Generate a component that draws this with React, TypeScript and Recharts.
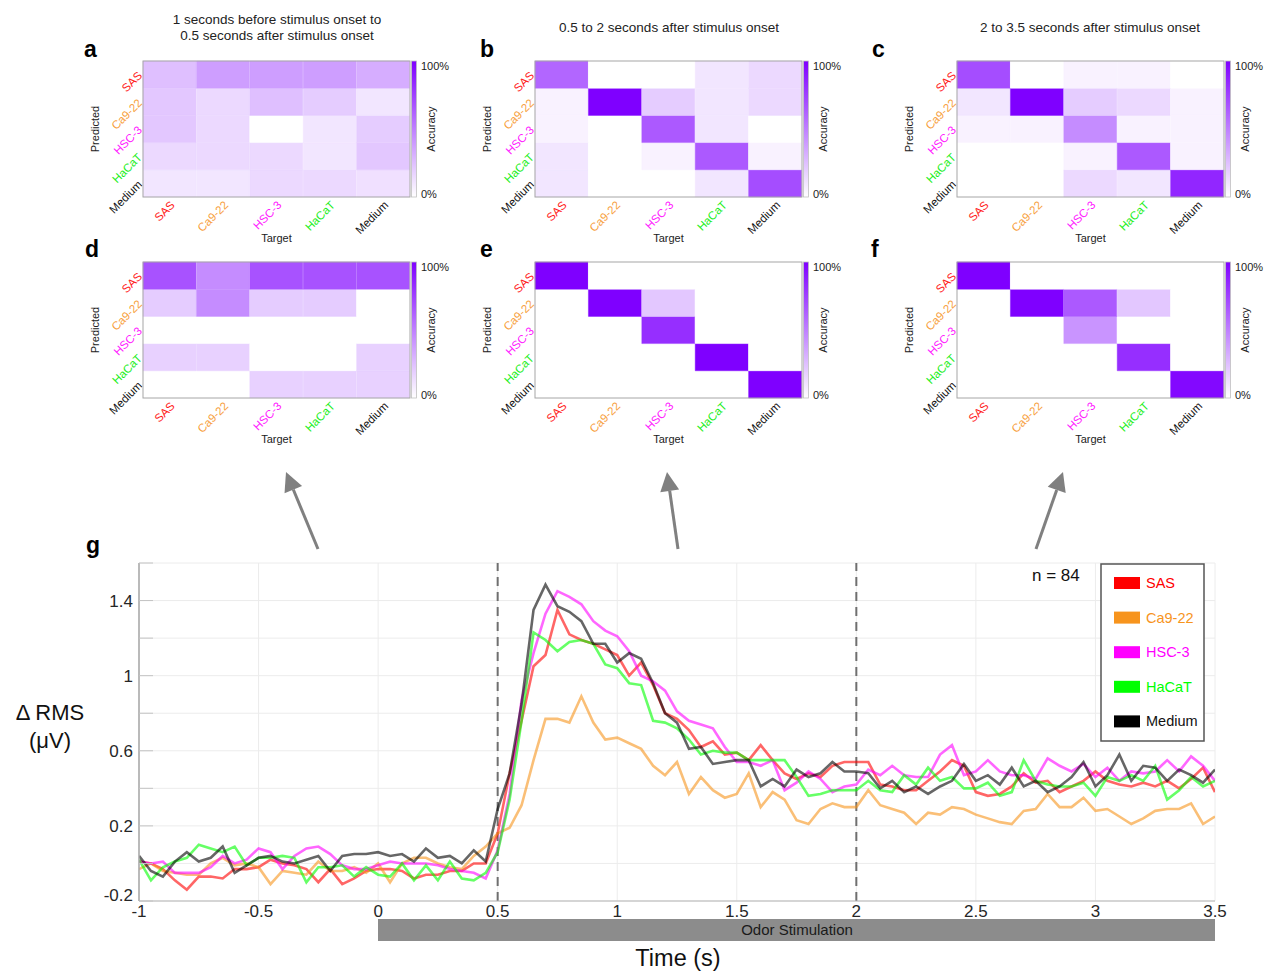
import React from 'react';
import { BarChart, Bar, Cell, XAxis, YAxis, LineChart, Line, CartesianGrid, ReferenceLine } from 'recharts';

const FONT = 'Liberation Sans, Arial, Helvetica, sans-serif';

// ---------- categories ----------
const CLASSES = ['SAS', 'Ca9-22', 'HSC-3', 'HaCaT', 'Medium'];
const LABEL_COLORS = ['#ff1a1a', '#f7a040', '#ff22ff', '#22ee22', '#111111'];
const SERIES_COLORS = ['#ff0000', '#f7941d', '#ff00ff', '#00ff00', '#000000'];

// ---------- confusion matrices (rows = Predicted, cols = Target, %) ----------
const PANEL_A = [
  [25, 38, 38, 38, 32],
  [22, 15, 25, 20, 10],
  [22, 15, 0, 10, 20],
  [15, 15, 15, 10, 22],
  [10, 10, 15, 15, 12],
];
const PANEL_B = [
  [60, 0, 0, 10, 15],
  [5, 100, 20, 10, 15],
  [5, 0, 65, 10, 0],
  [10, 0, 5, 65, 5],
  [10, 0, 0, 10, 70],
];
const PANEL_C = [
  [70, 0, 5, 5, 0],
  [10, 100, 20, 15, 5],
  [5, 5, 45, 5, 5],
  [0, 0, 5, 65, 5],
  [0, 0, 15, 10, 85],
];
const PANEL_D = [
  [68, 45, 68, 68, 68],
  [20, 45, 20, 20, 0],
  [0, 0, 0, 0, 0],
  [18, 18, 0, 0, 18],
  [0, 0, 18, 18, 18],
];
const PANEL_E = [
  [100, 0, 0, 0, 0],
  [0, 100, 22, 0, 0],
  [0, 0, 82, 0, 0],
  [0, 0, 0, 100, 0],
  [0, 0, 0, 0, 100],
];
const PANEL_F = [
  [100, 0, 0, 0, 0],
  [0, 100, 65, 22, 0],
  [0, 0, 42, 0, 0],
  [0, 0, 0, 82, 0],
  [0, 0, 0, 0, 97],
];

// ---------- time course (ΔRMS, µV), sampled every 0.05 s from -1 s ----------
const TIME_START = -1;
const TIME_STEP = 0.05;
const SAS = [
  0.01, 0, -0.03, -0.09, -0.14, -0.07, -0.07, -0.08, -0.03, -0.03, -0.02, 0.02, 0, -0.01, -0.03, -0.10, -0.03, -0.11, -0.08, -0.04, -0.03, -0.03, -0.04, -0.08, -0.06, -0.06, -0.04, -0.04, 0, 0,
  0.16, 0.48, 0.76, 1.05, 1.11, 1.35, 1.22, 1.19, 1.17, 1.14, 1.11, 1.00, 1.07, 0.95, 0.80, 0.77, 0.71, 0.62, 0.65, 0.58, 0.59, 0.55, 0.63, 0.55, 0.48, 0.45, 0.48, 0.46, 0.52, 0.54,
  0.54, 0.54, 0.42, 0.41, 0.39, 0.39, 0.44, 0.49, 0.55, 0.52, 0.38, 0.36, 0.37, 0.41, 0.48, 0.43, 0.44, 0.38, 0.41, 0.44, 0.49, 0.44, 0.42, 0.41, 0.43, 0.41, 0.44, 0.40, 0.45, 0.51, 0.38,
];
const CA9_22 = [
  -0.03, 0, -0.04, -0.05, -0.06, -0.06, 0, 0.03, -0.01, 0, -0.02, -0.11, -0.04, -0.05, -0.06, 0.01, -0.04, -0.04, -0.02, -0.05, 0, -0.10, 0, 0.03, 0.03, 0, -0.02, -0.03, 0.04, 0.09,
  0.16, 0.19, 0.31, 0.55, 0.77, 0.77, 0.75, 0.89, 0.75, 0.66, 0.67, 0.64, 0.61, 0.52, 0.47, 0.54, 0.37, 0.46, 0.39, 0.35, 0.37, 0.48, 0.30, 0.38, 0.34, 0.23, 0.21, 0.29, 0.32, 0.30,
  0.30, 0.39, 0.31, 0.29, 0.27, 0.21, 0.27, 0.26, 0.30, 0.29, 0.26, 0.24, 0.22, 0.21, 0.28, 0.29, 0.37, 0.30, 0.30, 0.35, 0.28, 0.29, 0.25, 0.21, 0.24, 0.28, 0.29, 0.29, 0.32, 0.21, 0.25,
];
const HSC_3 = [
  0.01, 0, 0.01, -0.05, -0.05, -0.05, -0.02, 0.04, 0, 0.02, 0.08, 0.06, -0.03, 0.04, 0.08, 0.09, 0.05, -0.01, -0.03, -0.03, -0.01, 0.01, 0, 0, 0, -0.01, -0.03, -0.04, -0.05, -0.08,
  0.07, 0.37, 0.87, 1.12, 1.33, 1.45, 1.42, 1.38, 1.29, 1.24, 1.21, 1.13, 1.00, 0.97, 0.92, 0.81, 0.76, 0.74, 0.72, 0.62, 0.54, 0.54, 0.52, 0.55, 0.39, 0.43, 0.49, 0.45, 0.38, 0.41,
  0.42, 0.50, 0.47, 0.52, 0.47, 0.46, 0.46, 0.58, 0.63, 0.47, 0.49, 0.55, 0.49, 0.47, 0.47, 0.45, 0.56, 0.52, 0.49, 0.53, 0.46, 0.51, 0.44, 0.49, 0.48, 0.49, 0.55, 0.49, 0.57, 0.52, 0.44,
];
const HACAT = [
  0.02, -0.09, -0.02, 0.01, 0.03, 0.10, 0.08, 0.06, 0.09, -0.01, 0.03, 0.03, 0.04, 0.03, -0.10, -0.02, -0.02, -0.01, -0.07, -0.02, -0.06, -0.07, 0, -0.09, -0.01, -0.09, 0.01, -0.08, -0.09, -0.05,
  0.06, 0.34, 0.76, 1.23, 1.19, 1.13, 1.18, 1.19, 1.17, 1.06, 1.04, 0.96, 0.95, 0.76, 0.75, 0.72, 0.66, 0.58, 0.60, 0.59, 0.59, 0.55, 0.55, 0.55, 0.55, 0.46, 0.36, 0.37, 0.39, 0.39,
  0.39, 0.44, 0.39, 0.38, 0.47, 0.42, 0.51, 0.44, 0.46, 0.40, 0.40, 0.43, 0.36, 0.38, 0.55, 0.44, 0.42, 0.41, 0.41, 0.43, 0.36, 0.46, 0.44, 0.47, 0.44, 0.52, 0.34, 0.39, 0.46, 0.41, 0.44,
];
const MEDIUM = [
  0.04, -0.04, -0.07, 0.01, 0.06, 0.01, 0.03, 0.09, -0.05, -0.01, 0.03, 0.04, 0.01, 0.0, 0.02, 0.04, -0.04, 0.04, 0.05, 0.05, 0.06, 0.04, 0.05, 0.01, 0.08, 0.03, 0.04, 0.0, 0.07, 0.01,
  0.29, 0.48, 0.85, 1.35, 1.485, 1.37, 1.34, 1.29, 1.17, 1.17, 1.07, 1.12, 1.09, 0.96, 0.80, 0.75, 0.61, 0.62, 0.53, 0.54, 0.55, 0.55, 0.41, 0.45, 0.41, 0.50, 0.46, 0.48, 0.54, 0.49,
  0.49, 0.48, 0.40, 0.44, 0.38, 0.41, 0.37, 0.41, 0.44, 0.53, 0.44, 0.47, 0.42, 0.51, 0.41, 0.44, 0.38, 0.41, 0.46, 0.54, 0.41, 0.47, 0.58, 0.44, 0.52, 0.51, 0.44, 0.50, 0.47, 0.43, 0.50,
];

const X_TICKS = [-1, -0.5, 0, 0.5, 1, 1.5, 2, 2.5, 3, 3.5];
const Y_TICKS = [-0.2, 0, 0.2, 0.4, 0.6, 0.8, 1, 1.2, 1.4, 1.6];
const Y_LABELED = [-0.2, 0.2, 0.6, 1, 1.4];
const STIM_MARKERS = [0.5, 2];

const SERIES_VALUES = [SAS, CA9_22, HSC_3, HACAT, MEDIUM];
const SERIES_KEYS = ['sas', 'ca', 'hsc', 'hacat', 'medium'];

const LINE_DATA = SAS.map((_, i) => {
  const row: any = { t: +(TIME_START + TIME_STEP * i).toFixed(2) };
  SERIES_KEYS.forEach((k, s) => { row[k] = SERIES_VALUES[s][i]; });
  return row;
});

// ---------- layout ----------
const HM_W = 267;
const HM_H = 136;
const PANELS = [
  { id: 'a', m: PANEL_A, x: 143, y: 61, lx: 84, ly: 57 },
  { id: 'b', m: PANEL_B, x: 535, y: 61, lx: 480, ly: 57 },
  { id: 'c', m: PANEL_C, x: 957, y: 61, lx: 872, ly: 57 },
  { id: 'd', m: PANEL_D, x: 143, y: 262, lx: 85, ly: 257 },
  { id: 'e', m: PANEL_E, x: 535, y: 262, lx: 480, ly: 257 },
  { id: 'f', m: PANEL_F, x: 957, y: 262, lx: 871, ly: 257 },
];

function accColor(p: number) {
  const f = Math.max(0, Math.min(100, p)) / 100;
  const r = Math.round(255 + (127 - 255) * f);
  const g = Math.round(255 + (0 - 255) * f);
  const b = 255;
  return `rgb(${r},${g},${b})`;
}

const HM_DATA = CLASSES.map((target) => {
  const row: any = { target };
  CLASSES.forEach((_, r) => { row['r' + r] = 1; });
  return row;
});
const STACK_ORDER = [4, 3, 2, 1, 0];

function HmXTick(props: any) {
  const { x, y, payload } = props;
  const idx = CLASSES.indexOf(payload.value);
  const ax = x + 3;
  const ay = y + 6;
  return (
    <text x={ax} y={ay} transform={`rotate(-45 ${ax} ${ay})`} textAnchor="end" dominantBaseline="central"
      fontSize={11.5} fontFamily={FONT} fill={LABEL_COLORS[idx]}>{payload.value}</text>
  );
}
function HmYTick(props: any) {
  const { x, y, payload } = props;
  const idx = 4 - Math.floor(payload.value);
  const ax = x - 3;
  const ay = y - 1;
  return (
    <text x={ax} y={ay} transform={`rotate(-45 ${ax} ${ay})`} textAnchor="end" dominantBaseline="central"
      fontSize={11.5} fontFamily={FONT} fill={LABEL_COLORS[idx]}>{CLASSES[idx]}</text>
  );
}

function Heatmap({ matrix, x, y }: { matrix: number[][]; x: number; y: number }) {
  return (
    <div style={{ position: 'absolute', left: x - 70, top: y - 10 }}>
      <BarChart width={HM_W + 75} height={HM_H + 60} data={HM_DATA}
        margin={{ top: 10, right: 5, left: 25, bottom: 5 }} barCategoryGap={0} barGap={0}>
        <XAxis dataKey="target" type="category" height={45} tickLine={false} axisLine={false}
          interval={0} tickSize={0} tickMargin={0} tick={HmXTick} />
        <YAxis type="number" domain={[0, 5]} ticks={[0.5, 1.5, 2.5, 3.5, 4.5]} width={45}
          tickLine={false} axisLine={false} tickSize={0} tickMargin={0} tick={HmYTick} />
        {STACK_ORDER.map((r) => (
          <Bar key={r} dataKey={'r' + r} stackId="s" isAnimationActive={false}>
            {HM_DATA.map((_, c) => (
              <Cell key={c} fill={accColor(matrix[r][c])} stroke={accColor(matrix[r][c])} strokeWidth={0.4} />
            ))}
          </Bar>
        ))}
      </BarChart>
    </div>
  );
}

function LineYTick(props: any) {
  const { x, y, payload } = props;
  const v = payload.value;
  const labeled = Y_LABELED.some((l) => Math.abs(l - v) < 1e-6);
  const shift = Math.abs(v - Y_TICKS[0]) < 1e-6 ? -6 : 0;
  return (
    <g>
      <line x1={x} x2={x + 14} y1={y} y2={y} stroke="#c4c4c4" strokeWidth={1} />
      {labeled && (
        <text x={x - 6} y={y + shift} dy="0.35em" textAnchor="end" fontSize={17} fontFamily={FONT} fill="#262626">
          {String(v)}
        </text>
      )}
    </g>
  );
}

function arrow(x1: number, y1: number, x2: number, y2: number, key: string) {
  const dx = x2 - x1, dy = y2 - y1;
  const len = Math.sqrt(dx * dx + dy * dy);
  const ux = dx / len, uy = dy / len;
  const hl = 19, hw = 9.5;
  const bx = x2 - ux * hl, by = y2 - uy * hl;
  const px = -uy, py = ux;
  const pts = `${x2},${y2} ${bx + px * hw},${by + py * hw} ${bx - px * hw},${by - py * hw}`;
  return (
    <g key={key}>
      <line x1={x1} y1={y1} x2={bx} y2={by} stroke="#808080" strokeWidth={3} />
      <polygon points={pts} fill="#808080" />
    </g>
  );
}

function Overlay() {
  return (
    <svg width={1265} height={972} style={{ position: 'absolute', left: 0, top: 0, pointerEvents: 'none' }}>
      <defs>
        <linearGradient id="accgrad" x1="0" y1="0" x2="0" y2="1">
          <stop offset="0%" stopColor={accColor(100)} />
          <stop offset="100%" stopColor={accColor(0)} />
        </linearGradient>
      </defs>
      {/* titles */}
      <text x={277} y={24} textAnchor="middle" fontSize={13.5} fontFamily={FONT} fill="#222">1 seconds before stimulus onset to</text>
      <text x={277} y={40} textAnchor="middle" fontSize={13.5} fontFamily={FONT} fill="#222">0.5 seconds after stimulus onset</text>
      <text x={669} y={32} textAnchor="middle" fontSize={13.5} fontFamily={FONT} fill="#222">0.5 to 2 seconds after stimulus onset</text>
      <text x={1090} y={32} textAnchor="middle" fontSize={13.5} fontFamily={FONT} fill="#222">2 to 3.5 seconds after stimulus onset</text>

      {PANELS.map((p) => (
        <g key={p.id}>
          <text x={p.lx} y={p.ly} fontSize={23} fontWeight="bold" fontFamily={FONT} fill="#000">{p.id}</text>
          <rect x={p.x} y={p.y} width={HM_W} height={HM_H} fill="none" stroke="#a6a6a6" strokeWidth={1} />
          <rect x={p.x + HM_W + 1.5} y={p.y} width={5} height={HM_H} fill="url(#accgrad)" stroke="#c0c0c0" strokeWidth={0.8} />
          <text x={p.x + HM_W + 11} y={p.y + 5} dy="0.35em" fontSize={11} fontFamily={FONT} fill="#222">100%</text>
          <text x={p.x + HM_W + 11} y={p.y + HM_H - 3} dy="0.35em" fontSize={11} fontFamily={FONT} fill="#222">0%</text>
          <text transform={`translate(${p.x + HM_W + 21},${p.y + HM_H / 2}) rotate(-90)`} textAnchor="middle" dy="0.35em"
            fontSize={11} fontFamily={FONT} fill="#222">Accuracy</text>
          <text transform={`translate(${p.x - 48},${p.y + HM_H / 2}) rotate(-90)`} textAnchor="middle" dy="0.35em"
            fontSize={11} fontFamily={FONT} fill="#222">Predicted</text>
          <text x={p.x + HM_W / 2} y={p.y + HM_H + 41} textAnchor="middle" dy="0.35em" fontSize={11} fontFamily={FONT} fill="#222">Target</text>
        </g>
      ))}

      {arrow(318, 549, 286, 472, 'a1')}
      {arrow(678, 549, 667, 472, 'a2')}
      {arrow(1036, 549, 1063, 472, 'a3')}

      <text x={86} y={553} fontSize={23} fontWeight="bold" fontFamily={FONT} fill="#000">g</text>
      <text x={50} y={720} textAnchor="middle" fontSize={22} fontFamily={FONT} fill="#111">Δ RMS</text>
      <text x={50} y={748} textAnchor="middle" fontSize={22} fontFamily={FONT} fill="#111">(μV)</text>

      <rect x={378} y={919} width={837} height={22} fill="#8c8c8c" />
      <text x={797} y={930} dy="0.35em" textAnchor="middle" fontSize={15} fontFamily={FONT} fill="#1a1a1a">Odor Stimulation</text>
      <text x={678} y={966} textAnchor="middle" fontSize={23.5} fontFamily={FONT} fill="#111">Time (s)</text>

      <text x={1032} y={581} fontSize={17} fontFamily={FONT} fill="#111">n = 84</text>

      <rect x={1101} y={564} width={103} height={177} fill="#fff" stroke="#555" strokeWidth={1.5} />
      {CLASSES.map((c, i) => (
        <g key={c}>
          <rect x={1114} y={577 + i * 34.6} width={26} height={12} fill={SERIES_COLORS[i]} />
          <text x={1146} y={583 + i * 34.6} dy="0.35em" fontSize={14.5} fontFamily={FONT}
            fill={i === 4 ? '#111' : SERIES_COLORS[i]}>{c}</text>
        </g>
      ))}
    </svg>
  );
}

export default function App() {
  return (
    <div style={{ position: 'absolute', left: 0, top: 0, width: 1265, height: 972, background: '#fff', overflow: 'hidden' }}>
      {PANELS.map((p) => (
        <Heatmap key={p.id} matrix={p.m} x={p.x} y={p.y} />
      ))}
      <div style={{ position: 'absolute', left: 0, top: 540 }}>
        <LineChart width={1265} height={432} data={LINE_DATA} margin={{ top: 23, right: 50, left: 99, bottom: 41 }}>
          <CartesianGrid stroke="#ececec" strokeWidth={1} />
          <XAxis dataKey="t" type="number" domain={[-1, 3.5]} ticks={X_TICKS} height={30} tickSize={0} tickMargin={4}
            stroke="#b5b5b5" allowDataOverflow tickFormatter={(v: number) => String(v)}
            tick={{ fill: '#262626', fontSize: 17, fontFamily: FONT }} />
          <YAxis type="number" domain={[-0.2, 1.6]} ticks={Y_TICKS} width={40} tickSize={0} tickMargin={0}
            stroke="#a6a6a6" strokeWidth={1.5} allowDataOverflow interval={0} tick={LineYTick} />
          {STIM_MARKERS.map((m) => (
            <ReferenceLine key={m} x={m} stroke="#6f6f6f" strokeWidth={2} strokeDasharray="9 6" />
          ))}
          {SERIES_KEYS.map((k, s) => (
            <Line key={k} dataKey={k} name={CLASSES[s]} type="linear" stroke={SERIES_COLORS[s]} strokeOpacity={0.6}
              strokeWidth={2.6} dot={false} activeDot={false} isAnimationActive={false} />
          ))}
        </LineChart>
      </div>
      <Overlay />
    </div>
  );
}
